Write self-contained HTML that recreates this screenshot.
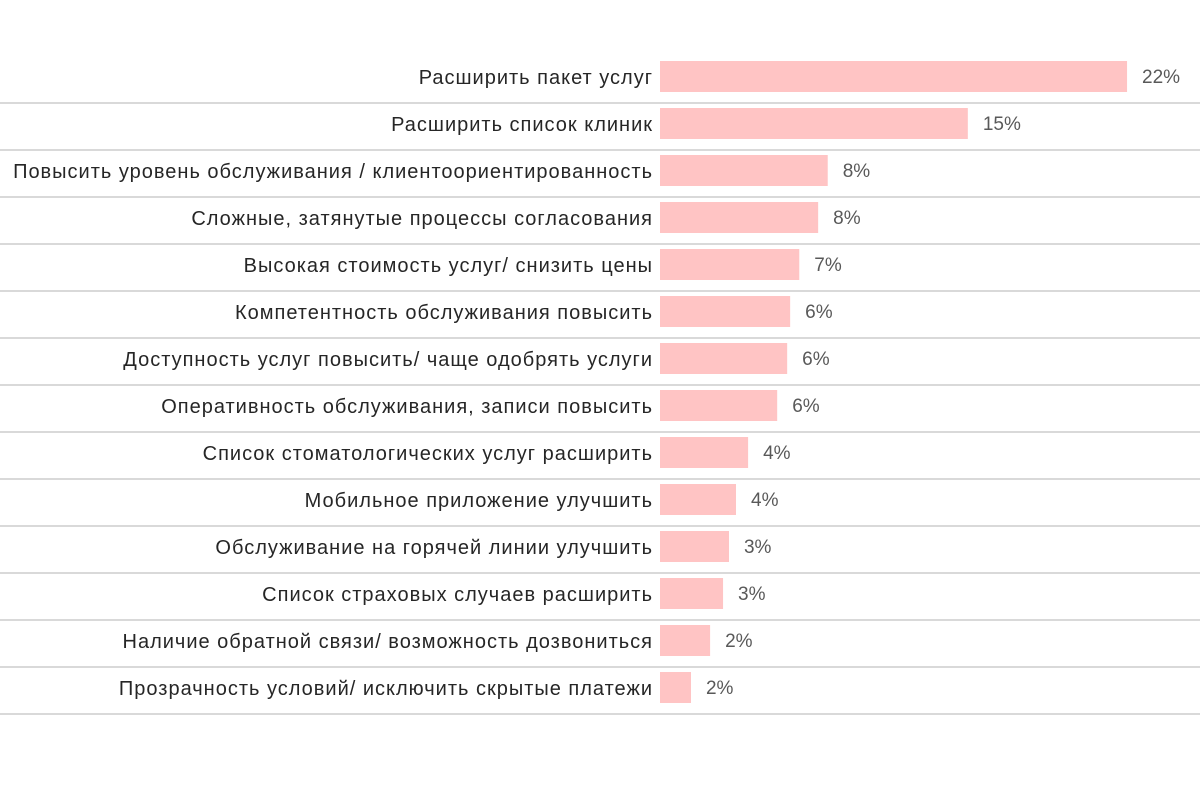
<!DOCTYPE html>
<html><head><meta charset="utf-8"><style>
html,body{margin:0;padding:0;background:#fff;}
svg{display:block;font-family:"Liberation Sans",sans-serif;}
</style></head><body>
<svg id="chart" width="1200" height="792" viewBox="0 0 1200 792"></svg>
<script>
const categories = ["Расширить пакет услуг","Расширить список клиник","Повысить уровень обслуживания / клиентоориентированность","Сложные, затянутые процессы согласования","Высокая стоимость услуг/ снизить цены","Компетентность обслуживания повысить","Доступность услуг повысить/ чаще одобрять услуги","Оперативность обслуживания, записи повысить","Список стоматологических услуг расширить","Мобильное приложение улучшить","Обслуживание на горячей линии улучшить","Список страховых случаев расширить","Наличие обратной связи/ возможность дозвониться","Прозрачность условий/ исключить скрытые платежи"];
const values = [22.0,14.5,7.9,7.45,6.56,6.13,5.99,5.52,4.15,3.58,3.25,2.97,2.36,1.46];
const valueLabels = ["22%","15%","8%","8%","7%","6%","6%","6%","4%","4%","3%","3%","2%","2%"];
const svg = document.getElementById('chart');
const NS = 'http://www.w3.org/2000/svg';
const x0 = 660, pxPerUnit = 21.23, top0 = 56, pitch = 47;
function xScale(v){ return x0 + v * pxPerUnit; }
function yRow(i){ return top0 + i * pitch; }
function mk(tag, attrs){ const e = document.createElementNS(NS, tag); for (const k in attrs) e.setAttribute(k, attrs[k]); svg.appendChild(e); return e; }
categories.forEach((c, i) => {
  const y = yRow(i);
  const sep = mk('rect', {x:0, y:y+46, width:1200, height:2, fill:'#d9d9d9'});
  
  
  const bar = mk('rect', {x:x0, y:y+5, width:xScale(values[i]) - x0, height:31, fill:'#ffc4c4'});
  
  
  const lab = mk('text', {x:653, y:y+28, 'text-anchor':'end', 'font-size':20, 'letter-spacing':1, fill:'#262626'});
  lab.textContent = c;
  
  
  const val = mk('text', {x:xScale(values[i]) + 15, y:y+27, 'font-size':19, fill:'#595959'});
  val.textContent = valueLabels[i];
  
  
});
</script>
</body></html>
